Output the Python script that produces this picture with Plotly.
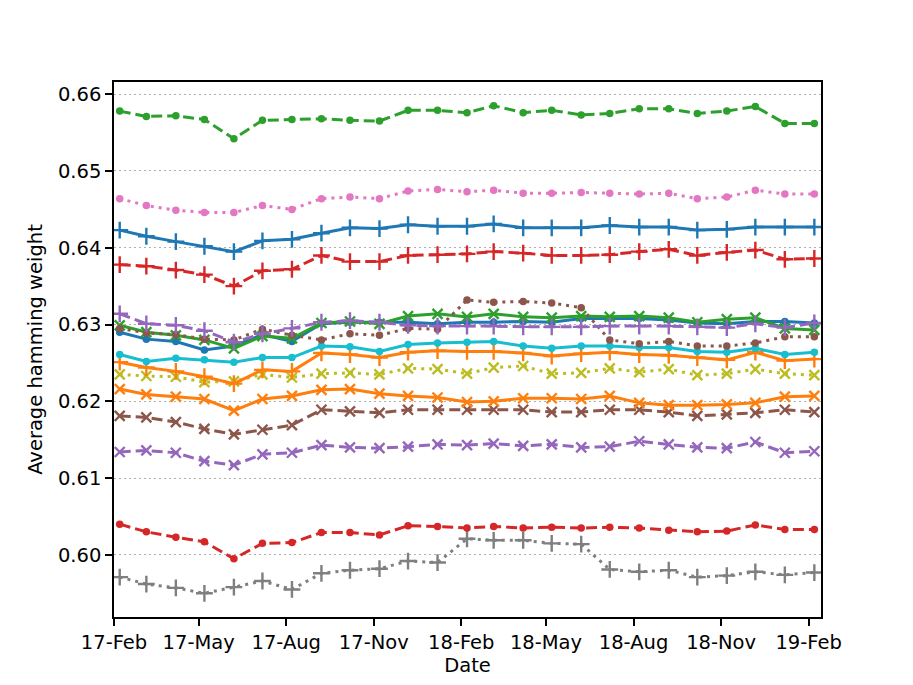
import plotly.graph_objects as go

# monthly sample dates (7th of each month)
dates = [
    "2017-02-07", "2017-03-07", "2017-04-07", "2017-05-07", "2017-06-07",
    "2017-07-07", "2017-08-07", "2017-09-07", "2017-10-07", "2017-11-07",
    "2017-12-07", "2018-01-07", "2018-02-07", "2018-03-07", "2018-04-07",
    "2018-05-07", "2018-06-07", "2018-07-07", "2018-08-07", "2018-09-07",
    "2018-10-07", "2018-11-07", "2018-12-07", "2019-01-07", "2019-02-07",
]

green_dash_dot = [
    0.6578, 0.6571, 0.6572, 0.6567, 0.6542, 0.6566, 0.6567, 0.6568, 0.6566,
    0.6565, 0.6579, 0.6579, 0.6576, 0.6585, 0.6576, 0.6579, 0.6573, 0.6575,
    0.6581, 0.6581, 0.6575, 0.6578, 0.6584, 0.6562, 0.6562,
]
pink_dot_dot = [
    0.6464, 0.6455, 0.6449, 0.6446, 0.6446, 0.6455, 0.6450, 0.6464, 0.6466,
    0.6464, 0.6474, 0.6476, 0.6473, 0.6475, 0.6471, 0.6471, 0.6472, 0.6471,
    0.6470, 0.6471, 0.6464, 0.6466, 0.6475, 0.6470, 0.6470,
]
blue_solid_plus = [
    0.6423, 0.6415, 0.6408, 0.6402, 0.6395, 0.6409, 0.6411, 0.6419, 0.6426,
    0.6425, 0.6430, 0.6428, 0.6428, 0.6431, 0.6426, 0.6426, 0.6426, 0.6429,
    0.6427, 0.6427, 0.6423, 0.6424, 0.6427, 0.6427, 0.6427,
]
red_dash_plus = [
    0.6378, 0.6376, 0.6371, 0.6365, 0.6350, 0.6370, 0.6372, 0.6390, 0.6382,
    0.6382, 0.6390, 0.6391, 0.6392, 0.6395, 0.6393, 0.6390, 0.6390, 0.6391,
    0.6395, 0.6398, 0.6390, 0.6394, 0.6397, 0.6385, 0.6386,
]
purple_dash_plus = [
    0.6314, 0.6301, 0.6299, 0.6292, 0.6277, 0.6288, 0.6295, 0.6303, 0.6305,
    0.6303, 0.6299, 0.6298, 0.6298, 0.6298, 0.6297, 0.6297, 0.6297, 0.6298,
    0.6298, 0.6298, 0.6297, 0.6296, 0.6301, 0.6296, 0.6302,
]
green_solid_x = [
    0.6299, 0.6290, 0.6286, 0.6280, 0.6269, 0.6285, 0.6282, 0.6302, 0.6304,
    0.6301, 0.6311, 0.6314, 0.6310, 0.6314, 0.6310, 0.6309, 0.6311, 0.6310,
    0.6311, 0.6309, 0.6303, 0.6307, 0.6309, 0.6295, 0.6293,
]
blue_solid_dot = [
    0.6290, 0.6281, 0.6278, 0.6267, 0.6272, 0.6287, 0.6278, 0.6301, 0.6303,
    0.6303, 0.6303, 0.6301, 0.6303, 0.6303, 0.6304, 0.6303, 0.6308, 0.6308,
    0.6308, 0.6306, 0.6302, 0.6301, 0.6304, 0.6304, 0.6302,
]
brown_dot_dot = [
    0.6295, 0.6289, 0.6287, 0.6281, 0.6280, 0.6294, 0.6286, 0.6280, 0.6288,
    0.6286, 0.6295, 0.6294, 0.6332, 0.6329, 0.6330, 0.6328, 0.6322, 0.6280,
    0.6275, 0.6278, 0.6272, 0.6272, 0.6276, 0.6284, 0.6284,
]
cyan_solid_dot = [
    0.6261, 0.6252, 0.6256, 0.6254, 0.6251, 0.6257, 0.6257, 0.6272, 0.6271,
    0.6265, 0.6274, 0.6276, 0.6277, 0.6278, 0.6272, 0.6269, 0.6272, 0.6272,
    0.6270, 0.6270, 0.6265, 0.6264, 0.6269, 0.6261, 0.6264,
]
orange_solid_plus = [
    0.6251, 0.6244, 0.6239, 0.6232, 0.6223, 0.6241, 0.6239, 0.6263, 0.6261,
    0.6257, 0.6264, 0.6266, 0.6265, 0.6265, 0.6263, 0.6259, 0.6262, 0.6264,
    0.6261, 0.6260, 0.6257, 0.6254, 0.6264, 0.6253, 0.6255,
]
olive_dot_x = [
    0.6235, 0.6233, 0.6232, 0.6225, 0.6226, 0.6235, 0.6231, 0.6236, 0.6237,
    0.6235, 0.6243, 0.6242, 0.6236, 0.6244, 0.6246, 0.6236, 0.6237, 0.6243,
    0.6238, 0.6242, 0.6234, 0.6236, 0.6242, 0.6236, 0.6234,
]
orange_solid_x = [
    0.6216, 0.6209, 0.6206, 0.6203, 0.6188, 0.6203, 0.6207, 0.6215, 0.6216,
    0.6210, 0.6207, 0.6205, 0.6199, 0.6200, 0.6204, 0.6204, 0.6203, 0.6207,
    0.6198, 0.6195, 0.6195, 0.6196, 0.6198, 0.6206, 0.6207,
]
brown_dash_x = [
    0.6181, 0.6179, 0.6173, 0.6164, 0.6157, 0.6163, 0.6169, 0.6189, 0.6187,
    0.6185, 0.6189, 0.6189, 0.6189, 0.6189, 0.6189, 0.6186, 0.6186, 0.6189,
    0.6189, 0.6186, 0.6181, 0.6183, 0.6185, 0.6189, 0.6186,
]
purple_dash_x = [
    0.6134, 0.6136, 0.6133, 0.6122, 0.6117, 0.6131, 0.6133, 0.6143, 0.6140,
    0.6139, 0.6141, 0.6144, 0.6143, 0.6145, 0.6142, 0.6144, 0.6140, 0.6141,
    0.6148, 0.6144, 0.6140, 0.6139, 0.6147, 0.6133, 0.6135,
]
red_dash_dot = [
    0.6040, 0.6030, 0.6023, 0.6017, 0.5995, 0.6015, 0.6016, 0.6029, 0.6029,
    0.6026, 0.6038, 0.6037, 0.6035, 0.6037, 0.6035, 0.6036, 0.6035, 0.6036,
    0.6035, 0.6032, 0.6030, 0.6031, 0.6039, 0.6033, 0.6033,
]
gray_dot_plus = [
    0.5971, 0.5962, 0.5957, 0.5950, 0.5958, 0.5966, 0.5955, 0.5976, 0.5980,
    0.5982, 0.5992, 0.5990, 0.6021, 0.6019, 0.6019, 0.6015, 0.6014, 0.5981,
    0.5978, 0.5980, 0.5971, 0.5973, 0.5978, 0.5974, 0.5977,
]

x_tick_vals = [
    "2017-02-01", "2017-05-01", "2017-08-01", "2017-11-01", "2018-02-01",
    "2018-05-01", "2018-08-01", "2018-11-01", "2019-02-01",
]
x_tick_text = [
    "17-Feb", "17-May", "17-Aug", "17-Nov", "18-Feb",
    "18-May", "18-Aug", "18-Nov", "19-Feb",
]
y_tick_vals = [0.60, 0.61, 0.62, 0.63, 0.64, 0.65, 0.66]

# matplotlib tab10
colors = {
    "blue": "#1f77b4", "orange": "#ff7f0e", "green": "#2ca02c",
    "red": "#d62728", "purple": "#9467bd", "brown": "#8c564b",
    "pink": "#e377c2", "gray": "#7f7f7f", "olive": "#bcbd22",
    "cyan": "#17becf",
}
dashes = {"-": "solid", "--": "11px,5px", ":": "3px,5px"}
font = "DejaVu Sans, Verdana, sans-serif"
font_size = 19.5

# (name, values, colour, linestyle, marker), drawn bottom to top
series = [
    ("gray :+", gray_dot_plus, "gray", ":", "+"),
    ("red --.", red_dash_dot, "red", "--", "."),
    ("purple --x", purple_dash_x, "purple", "--", "x"),
    ("brown --x", brown_dash_x, "brown", "--", "x"),
    ("orange -x", orange_solid_x, "orange", "-", "x"),
    ("olive :x", olive_dot_x, "olive", ":", "x"),
    ("orange -+", orange_solid_plus, "orange", "-", "+"),
    ("cyan -.", cyan_solid_dot, "cyan", "-", "."),
    ("blue -.", blue_solid_dot, "blue", "-", "."),
    ("green -x", green_solid_x, "green", "-", "x"),
    ("brown :.", brown_dot_dot, "brown", ":", "."),
    ("purple --+", purple_dash_plus, "purple", "--", "+"),
    ("red --+", red_dash_plus, "red", "--", "+"),
    ("blue -+", blue_solid_plus, "blue", "-", "+"),
    ("pink :.", pink_dot_dot, "pink", ":", "."),
    ("green --.", green_dash_dot, "green", "--", "."),
]


def marker_style(marker: str, color: str) -> dict:
    if marker == ".":
        return {"symbol": "circle", "size": 7.5, "color": color}
    symbol = "cross-thin" if marker == "+" else "x-thin"
    return {
        "symbol": symbol,
        "size": 12 if marker == "+" else 10,
        "color": color,
        "line": {"color": color, "width": 2.4},
    }


def create_figure() -> go.Figure:
    fig = go.Figure()
    for name, values, cname, ls, marker in series:
        c = colors[cname]
        fig.add_trace(
            go.Scatter(
                x=dates,
                y=values,
                name=name,
                mode="lines+markers",
                line={"color": c, "width": 3, "dash": dashes[ls]},
                marker=marker_style(marker, c),
            )
        )

    title_font = {"family": font, "size": font_size, "color": "black"}
    axis_common = {
        "showline": True,
        "linecolor": "black",
        "linewidth": 1.6,
        "mirror": True,
        "ticks": "outside",
        "ticklen": 7,
        "tickwidth": 1.6,
        "tickcolor": "black",
        "tickfont": title_font,
        "zeroline": False,
    }
    fig.update_xaxes(
        type="date",
        range=["2017-02-01", "2019-02-14"],
        tickvals=x_tick_vals,
        ticktext=x_tick_text,
        showgrid=False,
        title={"text": "Date", "font": title_font, "standoff": 5},
        **axis_common,
    )
    fig.update_yaxes(
        range=[0.59191, 0.66159],
        tickvals=y_tick_vals,
        tickformat=".2f",
        showgrid=True,
        gridcolor="#b0b0b0",
        gridwidth=1.4,
        griddash="2px,3px",
        title={"text": "Average hamming weight", "font": title_font,
               "standoff": 10},
        **axis_common,
    )
    # page body has an 8px margin, so the figure is shrunk to fit the window
    fig.update_layout(
        width=905,
        height=677,
        margin={"l": 106, "r": 92, "t": 74, "b": 68},
        plot_bgcolor="white",
        paper_bgcolor="white",
        showlegend=False,
        font={"family": font, "color": "black"},
    )
    return fig


def main() -> None:
    fig = create_figure()
    fig.write_html("out.html")


if __name__ == "__main__":
    main()
